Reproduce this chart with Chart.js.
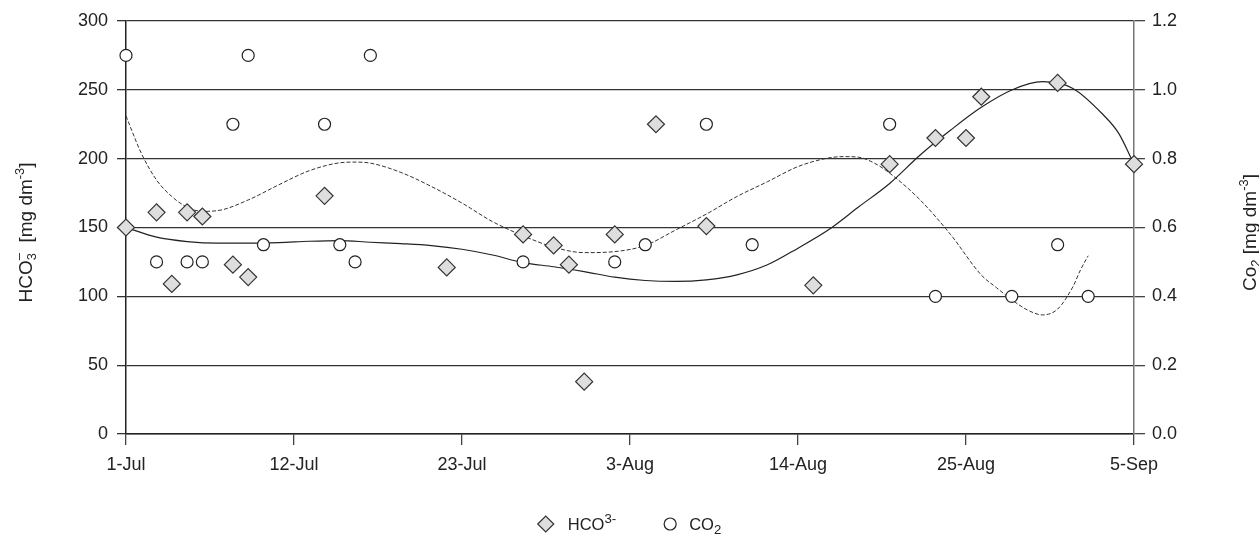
<!DOCTYPE html>
<html>
<head>
<meta charset="utf-8">
<title>HCO3- and CO2</title>
<script src="https://cdn.jsdelivr.net/npm/chart.js@4.4.0/dist/chart.umd.min.js"></script>
<style>
  body { margin: 0; background: #fff; }
  #wrap { width: 1259px; height: 537px; position: relative; }
</style>
</head>
<body>
<div id="wrap"><canvas id="hcoChart"></canvas></div>
<script>
// Sampling days, counted from 1-Jul
const hco3Days = [0, 2, 3, 4, 5, 7, 8, 13, 21, 26, 28, 29, 30, 32, 34.7, 38, 45, 50, 53, 55, 56, 61, 66];
const hco3Values = [150, 161, 109, 161, 158, 123, 114, 173, 121, 145, 137, 123, 38, 145, 225, 151, 108, 196, 215, 215, 245, 255, 196];

const co2Days = [0, 2, 4, 5, 7, 8, 9, 13, 14, 15, 16, 26, 32, 34, 38, 41, 50, 53, 58, 61, 63];
const co2Values = [1.1, 0.5, 0.5, 0.5, 0.9, 1.1, 0.55, 0.9, 0.55, 0.5, 1.1, 0.5, 0.5, 0.55, 0.9, 0.55, 0.9, 0.4, 0.4, 0.55, 0.4];

// Trend lines
const hco3TrendDays = [0, 2, 4, 6, 8, 10, 12, 14, 16, 18, 20, 22, 24, 26, 28, 30, 32, 34, 36, 38, 40, 42, 44, 46, 48, 50, 52, 54, 56, 58, 60, 62, 64, 65, 66];
const hco3TrendValues = [150, 143, 139.8, 138.6, 138.6, 139, 140, 140.5, 139.3, 138.3, 136.9, 134.2, 130, 124.5, 121.5, 118, 113.9, 111.5, 110.8, 112, 115.6, 122.9, 135, 148.3, 165.2, 182, 202.7, 220.8, 237.3, 249.9, 255.9, 251, 231.7, 218.4, 196];

const co2TrendDays = [0, 1, 2, 3, 4, 5, 6, 8, 10, 12, 14, 15, 16, 18, 20, 22, 24, 26, 28, 30, 32, 34, 36, 38, 40, 42, 44, 46, 47, 48, 49, 50, 52, 54, 56, 57, 58, 59, 60, 61, 62, 62.5, 63];
const co2TrendValues = [0.924, 0.816, 0.738, 0.69, 0.659, 0.647, 0.649, 0.68, 0.724, 0.765, 0.788, 0.79, 0.787, 0.76, 0.719, 0.671, 0.617, 0.576, 0.543, 0.527, 0.53, 0.548, 0.593, 0.639, 0.69, 0.733, 0.777, 0.802, 0.806, 0.804, 0.787, 0.758, 0.68, 0.579, 0.462, 0.425, 0.39, 0.361, 0.346, 0.363, 0.428, 0.477, 0.518];

const dateTicks = ["1-Jul", "12-Jul", "23-Jul", "3-Aug", "14-Aug", "25-Aug", "5-Sep"];
const tickStep = 11;

const fontFamily = "'Liberation Sans', Arial, sans-serif";
const textColor = "#222";

function toPoints(xs, ys) {
    return xs.map((x, i) => ({ x: x, y: ys[i] }));
}

// Draw text with sub/superscripts. parts: {t, m} with m = "", "sub", "sup" or "stack" (sub t + sup s)
function drawRich(ctx, parts, size, x, cy, align, smallRatio) {
    const small = size * (smallRatio || 0.68);
    const widthOf = (p) => {
        ctx.font = (p.m ? small : size) + "px " + fontFamily;
        let w = ctx.measureText(p.t).width;
        if (p.m === "stack") w = Math.max(w, ctx.measureText(p.s).width);
        return w;
    };
    const total = parts.reduce((s, p) => s + widthOf(p), 0);
    let cur = align === "center" ? x - total / 2 : x;
    const base = cy + size * 0.36;
    ctx.textAlign = "left";
    ctx.textBaseline = "alphabetic";
    ctx.fillStyle = textColor;
    parts.forEach(p => {
        const w = widthOf(p);
        if (!p.m) ctx.fillText(p.t, cur, base);
        else if (p.m === "sup") ctx.fillText(p.t, cur, base - size * 0.42);
        else if (p.m === "sub") ctx.fillText(p.t, cur, base + size * 0.24);
        else {
            ctx.fillText(p.t, cur, base + size * 0.24);
            ctx.fillText(p.s, cur, base - size * 0.45);
        }
        cur += w;
    });
    return total;
}

const leftTitle = [{ t: "HCO" }, { t: "3", m: "stack", s: "\u2013" }, { t: "  [mg dm" }, { t: "-3", m: "sup" }, { t: "]" }];
const rightTitle = [{ t: "Co" }, { t: "2", m: "sub" }, { t: " [mg dm" }, { t: "-3", m: "sup" }, { t: "]" }];
const legendHco3 = [{ t: "HCO" }, { t: "3-", m: "sup" }];
const legendCo2 = [{ t: "CO" }, { t: "2", m: "sub" }];

// Axis titles and legend drawn by hand so the sub/superscripts come out right
const extrasPlugin = {
    id: "extras",
    afterDraw(chart) {
        const ctx = chart.ctx;
        const area = chart.chartArea;
        const midY = (area.top + area.bottom) / 2 + 5;

        ctx.save();
        ctx.translate(25, midY);
        ctx.rotate(-Math.PI / 2);
        drawRich(ctx, leftTitle, 19, 0, 0, "center");
        ctx.restore();

        ctx.save();
        ctx.translate(chart.width - 10, midY);
        ctx.rotate(-Math.PI / 2);
        drawRich(ctx, rightTitle, 19, 0, 0, "center");
        ctx.restore();

        // legend
        const size = 16.5;
        const ratio = 0.8;
        const ly = chart.height - 13;
        const measure = (parts) => {
            const c = document.createElement("canvas").getContext("2d");
            return drawRich(c, parts, size, 0, 0, "left", ratio);
        };
        const w1 = measure(legendHco3);
        const w2 = measure(legendCo2);
        const total = 16 + 14 + w1 + 48 + 12 + 13 + w2;
        let x = chart.width / 2 - total / 2;

        ctx.save();
        ctx.beginPath();
        ctx.moveTo(x, ly);
        ctx.lineTo(x + 8, ly - 8);
        ctx.lineTo(x + 16, ly);
        ctx.lineTo(x + 8, ly + 8);
        ctx.closePath();
        ctx.fillStyle = "#dedede";
        ctx.fill();
        ctx.strokeStyle = "#333";
        ctx.lineWidth = 1.2;
        ctx.stroke();
        x += 16 + 14;
        drawRich(ctx, legendHco3, size, x, ly, "left", ratio);
        x += w1 + 48;

        ctx.beginPath();
        ctx.arc(x + 6, ly, 6, 0, Math.PI * 2);
        ctx.fillStyle = "#fff";
        ctx.fill();
        ctx.strokeStyle = "#222";
        ctx.stroke();
        x += 12 + 13;
        drawRich(ctx, legendCo2, size, x, ly, "left", ratio);
        ctx.restore();
    }
};

const tickFont = { family: fontFamily, size: 18 };

new Chart(document.getElementById("hcoChart"), {
    type: "scatter",
    data: {
        datasets: [
            {
                label: "HCO3-",
                data: toPoints(hco3Days, hco3Values),
                yAxisID: "y",
                clip: false,
                pointStyle: "rectRot",
                pointRadius: 8.5,
                backgroundColor: "#dedede",
                borderColor: "#333",
                borderWidth: 1.2,
            },
            {
                label: "CO2",
                data: toPoints(co2Days, co2Values),
                yAxisID: "y1",
                clip: false,
                pointStyle: "circle",
                pointRadius: 6,
                backgroundColor: "#fff",
                borderColor: "#222",
                borderWidth: 1.2,
            },
            {
                label: "HCO3- trend",
                data: toPoints(hco3TrendDays, hco3TrendValues),
                yAxisID: "y",
                showLine: true,
                pointRadius: 0,
                borderColor: "#222",
                borderWidth: 1.2,
                cubicInterpolationMode: "monotone",
            },
            {
                label: "CO2 trend",
                data: toPoints(co2TrendDays, co2TrendValues),
                yAxisID: "y1",
                showLine: true,
                pointRadius: 0,
                borderColor: "#333",
                borderWidth: 1,
                borderDash: [4, 2],
                cubicInterpolationMode: "monotone",
            },
        ],
    },
    options: {
        responsive: true,
        maintainAspectRatio: false,
        animation: false,
        events: [],
        layout: { padding: { top: 21, left: 0, right: 0, bottom: 0 } },
        plugins: {
            legend: { display: false },
            tooltip: { enabled: false },
        },
        scales: {
            x: {
                type: "linear",
                min: 0,
                max: 66,
                afterFit: (scale) => { scale.height = 103; },
                grid: { drawOnChartArea: false, tickLength: 11, tickColor: "#444", lineWidth: 1.3 },
                border: { color: "#222", width: 1.5 },
                ticks: {
                    stepSize: tickStep,
                    autoSkip: false,
                    maxRotation: 0,
                    padding: 9,
                    color: textColor,
                    font: tickFont,
                    callback: (v) => dateTicks[Math.round(v / tickStep)],
                },
            },
            y: {
                position: "left",
                min: 0,
                max: 300,
                afterFit: (scale) => { scale.width = 126; },
                grid: { color: "#333", lineWidth: 1.3, tickLength: 9 },
                border: { color: "#222", width: 1.5 },
                ticks: { stepSize: 50, padding: 9, color: textColor, font: tickFont },
            },
            y1: {
                position: "right",
                min: 0,
                max: 1.2,
                afterFit: (scale) => { scale.width = 125; },
                grid: { drawOnChartArea: false, tickLength: 11, color: "#444", lineWidth: 1.3 },
                border: { color: "#777", width: 1.5 },
                ticks: {
                    stepSize: 0.2,
                    padding: 7,
                    color: textColor,
                    font: tickFont,
                    callback: (v) => Number(v).toFixed(1),
                },
            },
        },
    },
    plugins: [extrasPlugin],
});
</script>
</body>
</html>
